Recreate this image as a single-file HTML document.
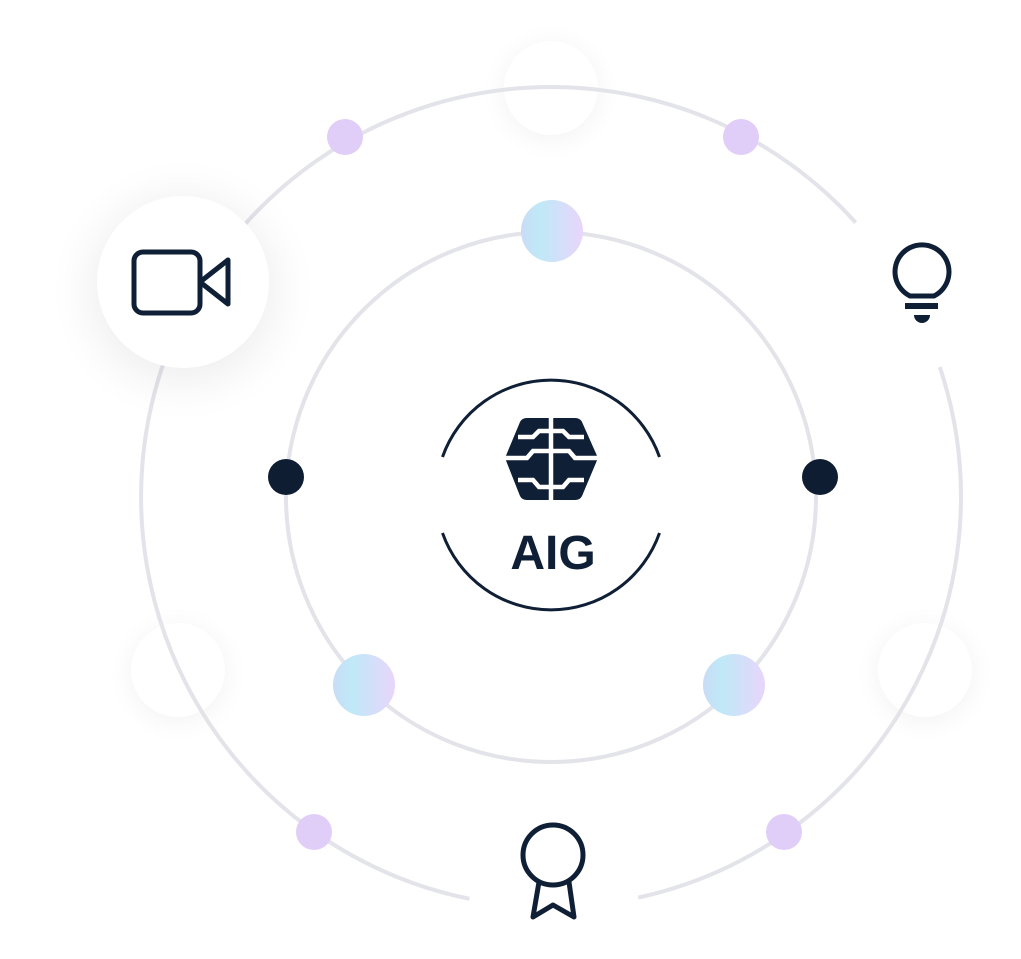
<!DOCTYPE html>
<html><head><style>
html,body{margin:0;padding:0;background:#fff;}
svg{display:block;}
</style></head><body>
<svg width="1021" height="959" viewBox="0 0 1021 959" xmlns="http://www.w3.org/2000/svg">
<defs>
<linearGradient id="g" x1="0" x2="1" y1="0" y2="0">
<stop offset="0" stop-color="#c9dcf6"/><stop offset="0.3" stop-color="#bfe9f7"/><stop offset="1" stop-color="#e8d5fb"/>
</linearGradient>
<filter id="sh" x="-60%" y="-60%" width="220%" height="220%"><feGaussianBlur stdDeviation="14"/></filter>
<filter id="sh2" x="-80%" y="-80%" width="260%" height="260%"><feGaussianBlur stdDeviation="24"/></filter>
</defs>
<circle cx="551" cy="92" r="47" fill="#000" opacity="0.05" filter="url(#sh)"/>
<circle cx="551" cy="88" r="47" fill="#fff"/>
<circle cx="178" cy="674" r="47" fill="#000" opacity="0.05" filter="url(#sh)"/>
<circle cx="178" cy="670" r="47" fill="#fff"/>
<circle cx="925" cy="674" r="47" fill="#000" opacity="0.05" filter="url(#sh)"/>
<circle cx="925" cy="670" r="47" fill="#fff"/>
<path d="M469.4,898.8 A410,410 0 1 1 855.7,222.6 M939.8,367 A410,410 0 0 1 638.3,897.6" fill="none" stroke="#e3e3ea" stroke-width="4"/>
<circle cx="551" cy="497" r="265" fill="none" stroke="#e3e3ea" stroke-width="4"/>
<circle cx="183" cy="290" r="92" fill="#000" opacity="0.07" filter="url(#sh2)"/>
<circle cx="183" cy="282" r="86" fill="#fff"/>
<rect x="134" y="252" width="66" height="61" rx="9" fill="none" stroke="#0f1f36" stroke-width="5"/>
<path d="M200,282 L228,260 L228,304 Z" fill="none" stroke="#0f1f36" stroke-width="5" stroke-linejoin="round"/>
<circle cx="345" cy="137" r="18" fill="#e0cdf8"/>
<circle cx="741" cy="137" r="18" fill="#e0cdf8"/>
<circle cx="314" cy="832" r="18" fill="#e0cdf8"/>
<circle cx="784" cy="832" r="18" fill="#e0cdf8"/>
<circle cx="552" cy="231" r="31" fill="url(#g)"/>
<circle cx="364" cy="685" r="31" fill="url(#g)"/>
<circle cx="734" cy="685" r="31" fill="url(#g)"/>
<circle cx="286" cy="477" r="18" fill="#0f1d33"/>
<circle cx="820" cy="477" r="18" fill="#0f1d33"/>
<path d="M910,296 A27,27 0 1 1 934,296 Z" fill="none" stroke="#0f1f36" stroke-width="5" stroke-linejoin="round"/>
<rect x="905" y="303" width="33" height="6" fill="#0f1f36"/>
<path d="M914,315 L930,315 A8,8 0 0 1 914,315 Z" fill="#0f1f36"/>
<circle cx="553" cy="855" r="30" fill="none" stroke="#0f1f36" stroke-width="5"/>
<path d="M539,882 L533,917 L553,905 L574,917 L569,882" fill="none" stroke="#0f1f36" stroke-width="5" stroke-linejoin="round"/>
<path d="M442.5,457 A115,115 0 0 1 659.5,457 M659.5,533 A115,115 0 0 1 442.5,533" fill="none" stroke="#0f1f36" stroke-width="3"/>
<path d="M505,458 L520,422 Q522,418 527,418 L575,418 Q580,418 582,422 L598,458 L582,496 Q580,500 575,500 L527,500 Q522,500 520,496 Z" fill="#0f1f36"/>
<g stroke="#fff" stroke-width="4.5" fill="none">
<path d="M551,416 V502"/>
<path d="M518,437 H533 L539,431 H551"/>
<path d="M584,437 H569 L563,431 H551"/>
<path d="M505,458 H527 L533,451 H551"/>
<path d="M598,458 H575 L569,451 H551"/>
<path d="M518,480 H533 L539,487 H551"/>
<path d="M584,480 H569 L563,487 H551"/>
</g>
<text x="553" y="569" text-anchor="middle" font-family="Liberation Sans, sans-serif" font-weight="bold" font-size="48" fill="#0f1f36">AIG</text>
</svg>
</body></html>
